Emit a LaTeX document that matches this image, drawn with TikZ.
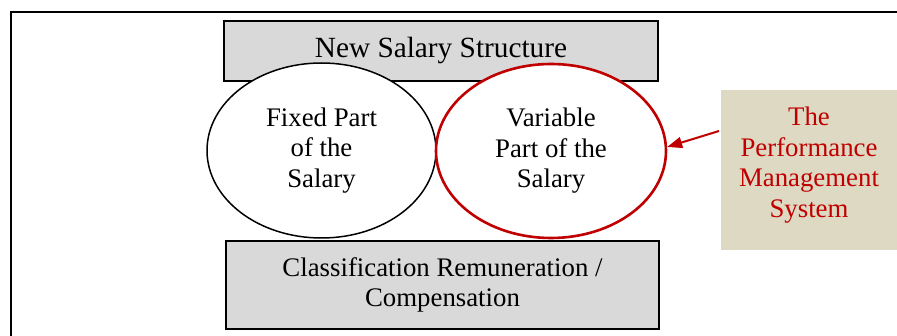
\documentclass[tikz,border=0pt]{standalone}
\usepackage{fontspec}
\setmainfont{Liberation Serif}
\usetikzlibrary{shapes.geometric,arrows.meta}
\definecolor{boxgray}{HTML}{D9D9D9}
\definecolor{tan}{HTML}{DDD9C3}
\definecolor{darkred}{HTML}{C00000}
\tikzset{
  graybox/.style={draw=black, line width=1.6pt, fill=boxgray, inner sep=0pt, align=center},
  oval/.style={ellipse, fill=white, inner sep=0pt, align=center},
  body/.style={font=\fontsize{26.8}{30.5}\selectfont},
}
\begin{document}
\begin{tikzpicture}[x=1pt,y=-1pt]
\useasboundingbox (0,0) rectangle (897,336);
\clip (0,0) rectangle (897,336);
\draw[line width=1.6pt] (11,12) rectangle (910,350);
\node[graybox, minimum width=434pt, minimum height=60pt, font=\fontsize{29.3}{32}\selectfont] (title) at (441,51) {New Salary Structure};
\node[graybox, body, minimum width=433pt, minimum height=88pt] (class) at (442.5,285) {Classification Remuneration /\\Compensation};
\node[oval, body, draw=black, line width=1.5pt, minimum width=229pt, minimum height=175pt] (fixed) at (321.5,150.5) {Fixed Part\\of the\\Salary};
\node[oval, body, draw=darkred, line width=2.6pt, minimum width=230pt, minimum height=174pt] (var) at (551,151) {Variable\\Part of the\\Salary};
\node[fill=tan, inner sep=0pt, minimum width=180pt, minimum height=160pt] (pmsbox) at (811,170) {};
\node[body, text=darkred, align=center, inner sep=0pt] (pms) at (809,165) {The\\Performance\\Management\\System};
\coordinate (astart) at (719,131);
\draw[darkred, line width=2pt, -{Triangle[length=15pt,width=11pt]}] (astart) -- (var.2.5);
\end{tikzpicture}
\end{document}
